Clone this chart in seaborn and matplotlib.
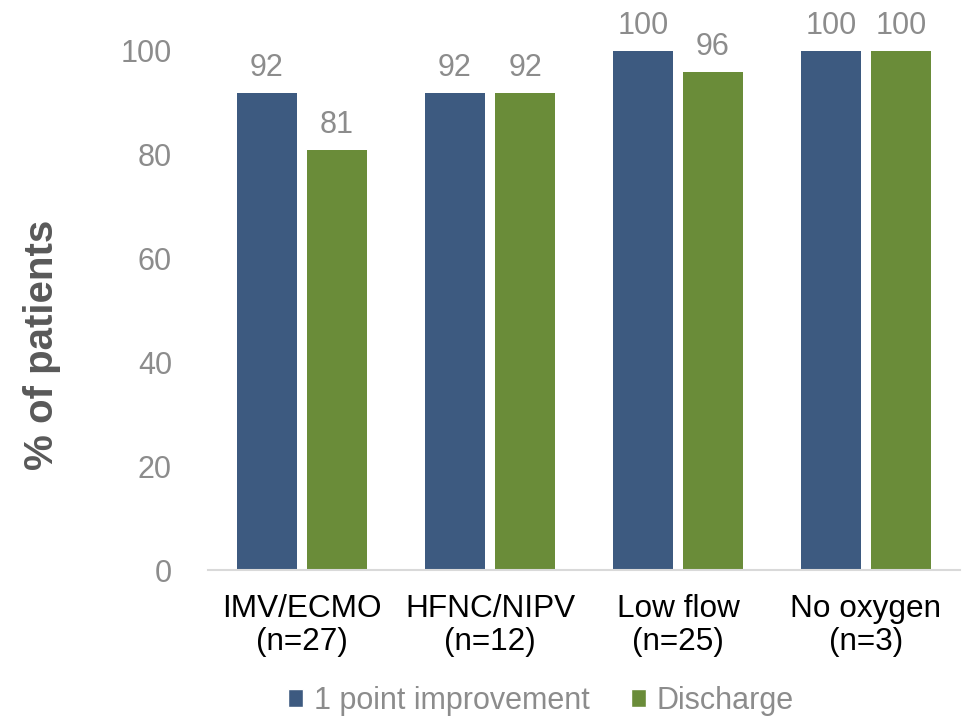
import matplotlib
matplotlib.use("Agg")
import matplotlib.pyplot as plt
from matplotlib.patches import Patch
import pandas as pd
import seaborn as sns

categories = ["IMV/ECMO\n(n=27)", "HFNC/NIPV\n(n=12)", "Low flow\n(n=25)", "No oxygen\n(n=3)"]
series_names = ["1 point improvement", "Discharge"]
improvement = [92, 92, 100, 100]
discharge = [81, 92, 96, 100]
y_ticks = [0, 20, 40, 60, 80, 100]

NAVY = "#3D5A80"
GREEN = "#6A8C39"
TICK_GRAY = "#8C8C8C"

df = pd.DataFrame({
    "category": categories * 2,
    "series": [series_names[0]] * len(categories) + [series_names[1]] * len(categories),
    "value": improvement + discharge,
})

sns.set_theme(style="white")
plt.rcParams["font.family"] = ["Liberation Sans", "DejaVu Sans"]

fig = plt.figure(figsize=(9.66, 7.18), dpi=100)
ax = fig.add_axes([208 / 966, 1 - 570 / 718, 752 / 966, 519 / 718])

sns.barplot(data=df, x="category", y="value", hue="series", order=categories,
            hue_order=series_names, palette=[NAVY, GREEN], width=0.745, gap=0.157,
            saturation=1, linewidth=0, legend=False, ax=ax)

for container in ax.containers:
    for t in ax.bar_label(container, fmt="%d", padding=7, fontsize=22, color=TICK_GRAY):
        t.set_clip_on(False)

ax.set_xlim(-0.5, 3.5)
ax.set_ylim(0, 100)
ax.set_yticks(y_ticks)
ax.tick_params(axis="y", labelsize=22, labelcolor=TICK_GRAY, length=0, pad=26)
ax.tick_params(axis="x", labelsize=22.7, labelcolor="black", length=0, pad=17)
for lbl in ax.get_xticklabels():
    lbl.set_linespacing(1.15)

for side in ["top", "right", "left"]:
    ax.spines[side].set_visible(False)
ax.spines["bottom"].set_color("#D9D9D9")
ax.spines["bottom"].set_linewidth(1.5)

ax.set_xlabel("")
ax.set_ylabel("")
fig.text(42 / 966, 1 - 345 / 718, "% of patients", rotation=90, ha="center", va="center",
         fontsize=29, fontweight="bold", color="#595959")

handles = [Patch(facecolor=NAVY), Patch(facecolor=GREEN)]
leg = fig.legend(handles, series_names, loc="center", bbox_to_anchor=(541 / 966, 1 - 701 / 718),
                 ncol=2, frameon=False, fontsize=22, handlelength=0.5, handleheight=0.5,
                 handletextpad=0.35, columnspacing=1.35, borderaxespad=0)
for t in leg.get_texts():
    t.set_color(TICK_GRAY)

fig.savefig("out.png", dpi=100)
